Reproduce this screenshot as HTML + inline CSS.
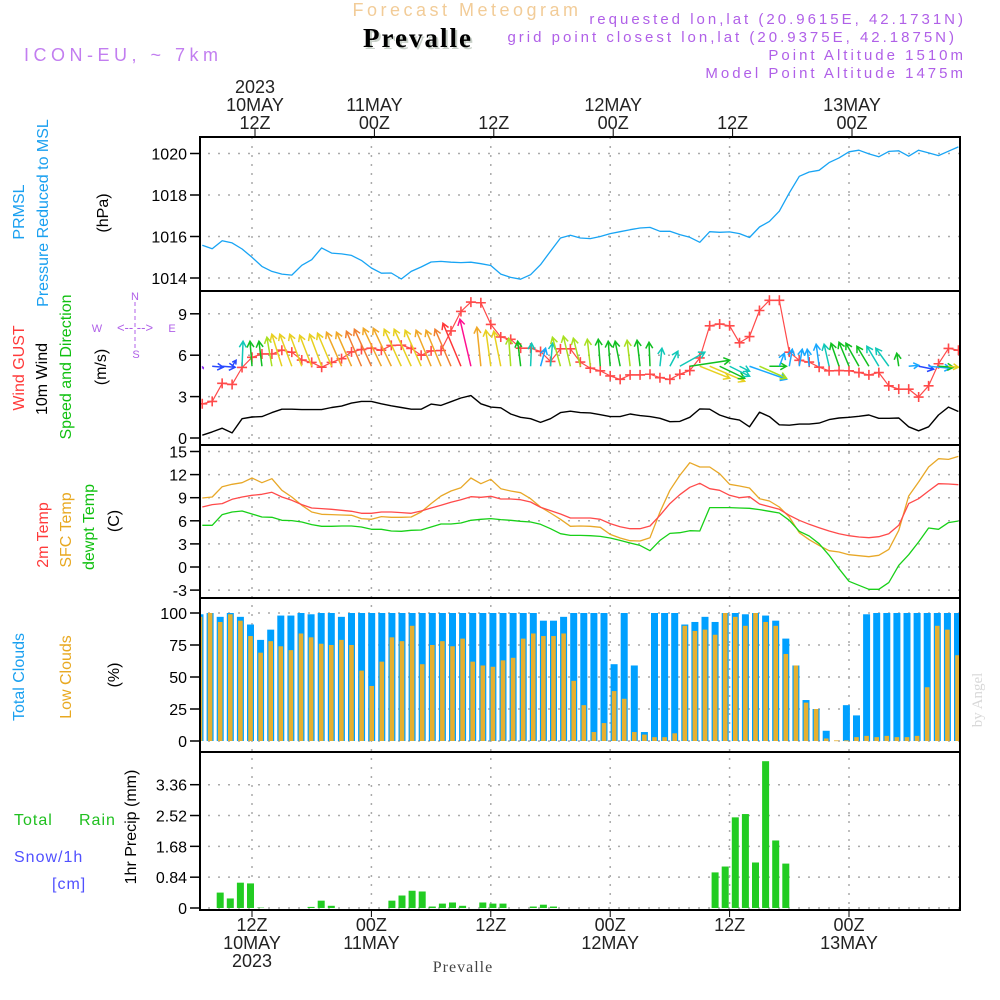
<!DOCTYPE html>
<html><head><meta charset="utf-8"><style>
html,body{margin:0;padding:0;background:#fff;width:1000px;height:1000px;overflow:hidden}
svg text{font-family:"Liberation Sans",sans-serif}
</style></head><body>
<svg id="chart" xmlns="http://www.w3.org/2000/svg" width="1000" height="1000" viewBox="0 0 1000 1000">
<defs><clipPath id="plotclip"><rect x="200" y="137" width="760" height="773"/></clipPath></defs>
<g>
<text x="467" y="16" text-anchor="middle" font-size="18" fill="#f2cc98" letter-spacing="3.5">Forecast Meteogram</text>
<text x="420" y="49" text-anchor="middle" font-size="27" font-weight="bold" fill="#c8d0c8" letter-spacing="2" style="font-family:'Liberation Serif',serif">Prevalle</text>
<text x="418" y="47" text-anchor="middle" font-size="27" font-weight="bold" fill="#000" letter-spacing="2" style="font-family:'Liberation Serif',serif">Prevalle</text>
<text x="24" y="61" font-size="18" fill="#c27ef0" letter-spacing="4.5">ICON-EU, ~ 7km</text>
<text x="966" y="24" text-anchor="end" font-size="15" fill="#b060e8" letter-spacing="3">requested lon,lat (20.9615E, 42.1731N)</text>
<text x="957" y="42" text-anchor="end" font-size="15" fill="#b060e8" letter-spacing="3">grid point closest lon,lat (20.9375E, 42.1875N)</text>
<text x="966" y="60" text-anchor="end" font-size="15" fill="#b060e8" letter-spacing="3">Point Altitude 1510m</text>
<text x="966" y="78" text-anchor="end" font-size="15" fill="#b060e8" letter-spacing="3">Model Point Altitude 1475m</text>
</g>
<g font-size="16">
<text transform="translate(24,212) rotate(-90)" text-anchor="middle" fill="#1aa0f0">PRMSL</text>
<text transform="translate(48,213) rotate(-90)" text-anchor="middle" fill="#1aa0f0">Pressure Reduced to MSL</text>
<text transform="translate(108,213) rotate(-90)" text-anchor="middle" fill="#000">(hPa)</text>
<text transform="translate(24,368) rotate(-90)" text-anchor="middle" fill="#ff3a3a">Wind GUST</text>
<text transform="translate(47,379) rotate(-90)" text-anchor="middle" fill="#000">10m Wind</text>
<text transform="translate(71,367) rotate(-90)" text-anchor="middle" fill="#10c010">Speed and Direction</text>
<text transform="translate(106,367) rotate(-90)" text-anchor="middle" fill="#000">(m/s)</text>
<g fill="#b060e8" font-size="11">
<text x="135" y="300" text-anchor="middle">N</text>
<text x="97" y="332" text-anchor="middle">W</text>
<text x="172" y="332" text-anchor="middle">E</text>
<text x="136" y="358" text-anchor="middle">S</text>
<text x="135" y="332" text-anchor="middle" font-size="13">&lt;-- --&gt;</text>
<line x1="135" y1="302" x2="135" y2="348" stroke="#b060e8" stroke-dasharray="4,3"/>
</g>
<text transform="translate(48,535) rotate(-90)" text-anchor="middle" fill="#ff3a3a">2m Temp</text>
<text transform="translate(71,530) rotate(-90)" text-anchor="middle" fill="#e8a820">SFC Temp</text>
<text transform="translate(94,527) rotate(-90)" text-anchor="middle" fill="#10c010">dewpt Temp</text>
<text transform="translate(119,521) rotate(-90)" text-anchor="middle" fill="#000">(C)</text>
<text transform="translate(24,677) rotate(-90)" text-anchor="middle" fill="#1aa0f0">Total Clouds</text>
<text transform="translate(71,677) rotate(-90)" text-anchor="middle" fill="#e8a820">Low Clouds</text>
<text transform="translate(119,675) rotate(-90)" text-anchor="middle" fill="#000">(%)</text>
<text x="14" y="825" fill="#20c020" letter-spacing="1">Total</text>
<text x="79" y="825" fill="#20c020" letter-spacing="1">Rain</text>
<text x="14" y="862" fill="#5050ff" letter-spacing="1">Snow/1h</text>
<text x="52" y="889" fill="#5050ff" letter-spacing="1">[cm]</text>
<text transform="translate(136,827) rotate(-90)" text-anchor="middle" fill="#000">1hr Precip (mm)</text>
<text transform="translate(982,700) rotate(-90)" text-anchor="middle" font-size="15" fill="#d8d8d8" style="font-family:'Liberation Serif',serif">by Angel</text>
<text x="463" y="972" text-anchor="middle" font-size="16" fill="#444" letter-spacing="1" style="font-family:'Liberation Serif',serif">Prevalle</text>
</g>
<g id="plot"></g>
</svg>
<script>
// ---- data (hourly, from 10 May 07Z; hour index relative to 00Z 10 May) ----
const startHour = 7;
const pressure = [1015.58,1015.41,1015.8,1015.69,1015.4,1015.0,1014.56,1014.32,1014.19,1014.14,1014.61,1014.88,1015.45,1015.2,1015.16,1015.09,1014.85,1014.48,1014.23,1014.24,1013.95,1014.32,1014.53,1014.77,1014.8,1014.76,1014.74,1014.76,1014.69,1014.6,1014.19,1014.03,1013.94,1014.16,1014.64,1015.29,1015.93,1016.06,1015.93,1015.9,1016.0,1016.14,1016.23,1016.33,1016.41,1016.44,1016.25,1016.25,1016.09,1015.96,1015.72,1016.23,1016.2,1016.22,1016.14,1015.95,1016.46,1016.73,1017.22,1018.1,1018.9,1019.11,1019.19,1019.56,1019.79,1020.08,1020.16,1019.98,1019.84,1020.1,1020.13,1019.87,1020.16,1020.03,1019.9,1020.11,1020.32];
const gust = [2.48,2.65,3.96,3.88,5.11,5.85,6.09,6.09,6.36,6.22,5.65,5.48,5.13,5.48,5.75,6.24,6.41,6.51,6.36,6.71,6.73,6.49,6.0,6.31,6.34,7.76,9.17,9.85,9.8,8.23,7.32,7.15,6.51,6.51,6.27,5.55,6.46,6.46,5.5,
 5.06,4.87,4.5,4.25,4.57,4.57,4.62,4.37,4.25,4.62,4.89,5.8,8.13,8.26,8.13,6.9,7.35,9.24,9.98,9.98,6.22,5.63,5.5,5.13,4.87,4.89,4.87,4.74,4.57,4.74,3.78,3.54,3.54,2.97,3.78,5.38,6.49,6.36];
const windSpeed = [0.2,0.44,0.71,0.37,1.4,1.52,1.55,1.84,2.09,2.09,2.06,2.06,2.06,2.21,2.31,2.53,2.65,2.65,2.48,2.33,2.21,2.09,2.09,2.46,2.36,2.63,2.9,3.07,2.48,2.24,2.19,1.74,1.5,1.4,1.13,1.4,1.84,1.94,1.84,
 1.82,1.69,1.55,1.55,1.74,1.62,1.55,1.43,1.18,1.2,1.5,2.11,2.09,1.67,1.43,1.3,0.81,1.87,1.55,0.96,0.93,1.01,1.01,1.08,1.33,1.45,1.5,1.57,1.67,1.43,1.43,1.45,0.81,0.52,0.81,1.67,2.24,1.92];
const windU = [1,11,13,4,1,-2,-3,-5,-10,-12,-12,-12,-12,-14,-15,-15,-15,-17,-18,-18,-17,-17,-16,-15,-15,-16,-18,-11,-4,-5,-7,-2,-3,1,5,2,-8,-7,-7,-3,-2,-2,-5,-3,-3,-1,2,8,25,40,30,35,25,20,10,37,27,17,5,3,3,-2,-3,-5,-8,-10,-13,-12,-12,-13,-2,10,15,22,15,10];
const windV = [-2,-1,-1,6,25,25,25,29,32,32,32,31,32,33,34,34,35,37,38,38,37,37,36,36,36,37,43,47,39,36,35,28,25,23,18,23,29,30,28,27,27,25,25,26,26,24,18,15,14,6,-12,-15,-12,-10,-5,-13,-12,0,13,17,17,17,22,22,23,24,23,20,20,18,13,1,-3,-2,-1,-1];
const temp2m = [7.79,8.1,8.23,8.79,9.09,9.31,9.44,9.7,9.09,8.66,8.1,7.66,7.58,7.49,7.36,7.23,6.97,6.97,7.14,7.14,7.06,6.97,7.27,7.66,8.01,8.4,8.74,9.13,9.05,9.18,8.83,8.83,8.74,8.44,7.75,7.32,6.88,6.36,
 6.36,6.36,6.19,5.63,5.24,4.98,4.98,5.32,6.71,8.23,9.39,10.35,10.87,10.17,9.96,9.31,9.0,9.13,8.18,7.84,7.49,6.71,6.06,5.54,5.11,4.68,4.33,4.07,3.9,3.81,3.94,4.33,5.41,8.23,8.87,9.87,10.82,10.78,10.69];
const tempSfc = [8.96,9.09,10.43,10.74,10.95,11.56,10.95,11.47,9.96,9.09,8.01,7.14,6.84,6.8,6.75,6.71,6.28,6.19,6.54,6.45,6.45,6.49,7.14,8.23,9.22,9.87,10.3,11.56,10.82,11.39,10.17,9.87,9.65,8.87,7.79,7.01,6.19,5.28,
 5.32,5.28,5.15,4.24,3.77,3.42,3.38,3.81,7.14,9.96,11.9,13.55,12.99,12.99,12.12,10.74,10.52,10.26,8.87,8.57,7.79,6.49,4.46,3.55,2.81,2.12,1.95,1.6,1.47,1.34,1.52,2.29,4.76,9.22,11.04,12.99,14.07,13.98,14.37];
const dewpt = [5.41,5.41,6.8,7.14,7.27,6.88,6.49,6.45,6.06,6.02,5.84,5.5,5.28,5.28,5.32,5.32,5.19,4.89,4.89,4.68,4.63,4.76,4.81,5.19,5.58,5.58,5.71,6.06,6.19,6.28,6.15,6.06,5.93,5.84,5.54,4.98,4.33,4.11,
 4.11,4.07,3.98,3.77,3.46,3.12,2.81,2.12,3.46,4.37,4.46,4.72,4.68,7.71,7.71,7.71,7.66,7.62,7.45,7.23,7.01,6.06,4.63,4.03,3.03,1.52,-0.22,-1.86,-2.38,-2.9,-2.9,-2.03,0.22,1.6,3.25,5.06,4.89,5.76,5.97];
const cloudTotal = [99,100,97,100,97,91,79,87,98,98,100,99,100,100,97,100,100,100,100,100,100,100,100,100,100,100,100,100,100,100,100,100,100,100,94,94,97,100,100,
 100,100,60,100,59,7,100,100,100,91,93,97,93,100,100,99,100,98,94,80,59,32,25,8,0,28,20,99,100,100,100,100,100,100,100,100,100];
const cloudLow = [97,100,93,99,94,82,69,78,74,71,84,81,76,75,79,75,55,43,62,81,78,90,60,75,78,74,80,62,59,58,63,65,80,84,82,82,84,47,28,
 7,14,39,33,7,5,3,3,6,90,86,87,83,100,97,90,100,93,90,68,59,30,25,2,0.5,0.5,3,4,3,4,3,3,4,42,90,87,67];
const precip = [0,0,0.42,0.26,0.69,0.67,0.01,0,0,0,0,0.03,0.2,0.06,0,0,0,0,0,0.2,0.34,0.47,0.45,0.04,0.12,0.15,0.06,0,0.15,0.12,0.12,0,0,0.04,0.09,0.04,
 0,0,0,0,0,0,0,0,0,0,0,0,0,0,0,0.97,1.13,2.47,2.56,1.24,4.0,1.84,1.21,0,0,0,0,0,0,0,0,0,0,0,0,0,0,0,0,0];
const timeTicks = [12,24,36,48,60,72];
const timeTop1 = ['10MAY','11MAY','','12MAY','','13MAY'];
const timeTop2 = ['12Z','00Z','12Z','00Z','12Z','00Z'];
const pTicks = [1014,1016,1018,1020];
const wTicks = [0,3,6,9];
const tTicks = [-3,0,3,6,9,12,15];
const cTicks = [0,25,50,75,100];
const rTicks = [0,0.84,1.68,2.52,3.36];

// ---- scales ----
const L=200, R=960;
function xS(h){return 252+(h-12)*9.95;}
function xBar(h){return 200+(h-7)*10.1;}
function yP(v){return 278-(v-1014)*20.75;}
function yW(v){return 438-v*13.8;}
function yT(v){return 567-v*7.7;}
function yC(v){return 741-v*1.28;}
function yR(v){return 908-v*36.7;}
const panels=[[137,291],[291,445],[445,598],[598,752],[752,910]];

const NS='http://www.w3.org/2000/svg';
const plot=document.getElementById('plot');
function mk(tag,attrs,parent){const e=document.createElementNS(NS,tag);for(const k in attrs)e.setAttribute(k,attrs[k]);(parent||plot).appendChild(e);return e;}
function grp(name){const g=document.createElementNS(NS,'g');plot.appendChild(g);return g;}

// grid
const grid=grp('grid-lines');
timeTicks.forEach(h=>{mk('line',{x1:xS(h),x2:xS(h),y1:137,y2:910,stroke:'#aaa','stroke-width':1.5,'stroke-dasharray':'2,7'},grid);});
function hgrid(ticks,fy,fmt,axisName){
  const g=grp(axisName);
  ticks.forEach(t=>{
    const y=fy(t);
    mk('line',{x1:L+8,x2:R,y1:y,y2:y,stroke:'#aaa','stroke-width':1.5,'stroke-dasharray':'2,8'},grid);
    mk('line',{x1:190,x2:L,y1:y,y2:y,stroke:'#000','stroke-width':1.5},g);
    const tx=mk('text',{x:187,y:y+6,'text-anchor':'end','font-size':16,fill:'#000'},g);
    tx.textContent=fmt(t);
  });
}
hgrid(pTicks,yP,t=>t,'pressure-y-axis');
hgrid(wTicks,yW,t=>t,'wind-y-axis');
hgrid(tTicks,yT,t=>t,'temp-y-axis');
hgrid(cTicks,yC,t=>t,'cloud-y-axis');
hgrid(rTicks,yR,t=>t===0?'0':t.toFixed(2),'precip-y-axis');

// time axes
const ta=grp('time-axis-top');
timeTicks.forEach((h,i)=>{
  const x=xS(h)+3;
  mk('line',{x1:x,x2:x,y1:129,y2:137,stroke:'#000'},ta);
  const a=mk('text',{x:x,y:129,'text-anchor':'middle','font-size':18,fill:'#222'},ta);a.textContent=timeTop2[i];
  if(timeTop1[i]){const b=mk('text',{x:x,y:111,'text-anchor':'middle','font-size':18,fill:'#222'},ta);b.textContent=timeTop1[i];}
});
{const y=mk('text',{x:xS(12)+3,y:93,'text-anchor':'middle','font-size':18,fill:'#222'},ta);y.textContent='2023';}
const tb=grp('time-axis-bottom');
timeTicks.forEach((h,i)=>{
  const x=xS(h);
  mk('line',{x1:x,x2:x,y1:910,y2:917,stroke:'#000'},tb);
  const a=mk('text',{x:x,y:931,'text-anchor':'middle','font-size':18,fill:'#222'},tb);a.textContent=timeTop2[i];
  if(timeTop1[i]){const b=mk('text',{x:x,y:949,'text-anchor':'middle','font-size':18,fill:'#222'},tb);b.textContent=timeTop1[i];}
});
{const y=mk('text',{x:xS(12),y:967,'text-anchor':'middle','font-size':18,fill:'#222'},tb);y.textContent='2023';}

function line(arr,fy,color,name,w){
  const pts=arr.map((v,i)=>xS(startHour+i).toFixed(1)+','+fy(v).toFixed(1)).join(' ');
  const p=mk('polyline',{points:pts,fill:'none',stroke:color,'stroke-width':w||1.3,'stroke-linejoin':'round','clip-path':'url(#plotclip)'});
  
  
}
// pressure
line(pressure,yP,'#18a4f4','pressure-line');
// wind speed
line(windSpeed,yW,'#000','wind-speed-line',1.4);
// gust
line(gust,yW,'#ff4a4a','gust-line',1.2);
const gm=grp('gust-markers');
gm.setAttribute('clip-path','url(#plotclip)');
gust.forEach((v,i)=>{const x=xS(startHour+i),y=yW(v);
  mk('path',{d:`M${x-5},${y}H${x+5}M${x},${y-5}V${y+5}`,stroke:'#ff4a4a','stroke-width':1.6},gm);});
// wind arrows
function spdColor(s){
  if(s<0.3)return '#9030f0';if(s<0.8)return '#2848ff';if(s<1.15)return '#18a8ff';if(s<1.45)return '#10c8b8';
  if(s<1.7)return '#10c020';if(s<1.95)return '#a8e020';if(s<2.3)return '#e8d020';if(s<2.6)return '#f0a828';
  if(s<2.85)return '#f08030';if(s<3.0)return '#ff3838';return '#ff1090';}
const wa=grp('wind-arrows');
wa.setAttribute('clip-path','url(#plotclip)');
windU.forEach((u,i)=>{
  const h=startHour+i,x0=xS(h),y0=yW(5.2),x1=x0+u,y1=y0-windV[i];
  const c=spdColor(windSpeed[i]);
  const len=Math.hypot(u,windV[i])||1,ux=u/len,uy=-windV[i]/len,hl=Math.min(7,len*0.6);
  const ax=x1-hl*(ux*0.87-uy*0.5),ay=y1-hl*(uy*0.87+ux*0.5);
  const bx=x1-hl*(ux*0.87+uy*0.5),by=y1-hl*(uy*0.87-ux*0.5);
  const a=mk('path',{d:`M${x0},${y0}L${x1},${y1}M${ax},${ay}L${x1},${y1}L${bx},${by}`,stroke:c,'stroke-width':1.5,fill:'none'},wa);
  
  
});
// temps
line(tempSfc,yT,'#e8a828','sfc-temp-line');
line(temp2m,yT,'#ff4a4a','temp-2m-line');
line(dewpt,yT,'#18d018','dewpoint-line');
// clouds
const cb=grp('cloud-bars');
cb.setAttribute('clip-path','url(#plotclip)');
cloudTotal.forEach((v,i)=>{const x=xBar(startHour+i);
  const r=mk('rect',{x:x-3.5,y:yC(v),width:7,height:yC(0)-yC(v),fill:'#00a0ff'},cb);
  });
cloudLow.forEach((v,i)=>{const x=xBar(startHour+i);
  const r=mk('rect',{x:x-2.3,y:yC(v),width:4.6,height:Math.max(0.8,yC(0)-yC(v)),fill:'#e6b030'},cb);
  });
// precip
const pb=grp('precip-bars');
pb.setAttribute('clip-path','url(#plotclip)');
precip.forEach((v,i)=>{if(v<=0)return;const x=xBar(startHour+i);
  const r=mk('rect',{x:x-3.5,y:yR(v),width:7,height:yR(0)-yR(v),fill:'#22cc22'},pb);
  });
// frames
const fr=grp('panel-frames');
panels.forEach(p=>mk('rect',{x:L,y:p[0],width:R-L,height:p[1]-p[0],fill:'none',stroke:'#000','stroke-width':2},fr));
</script>
</body></html>
